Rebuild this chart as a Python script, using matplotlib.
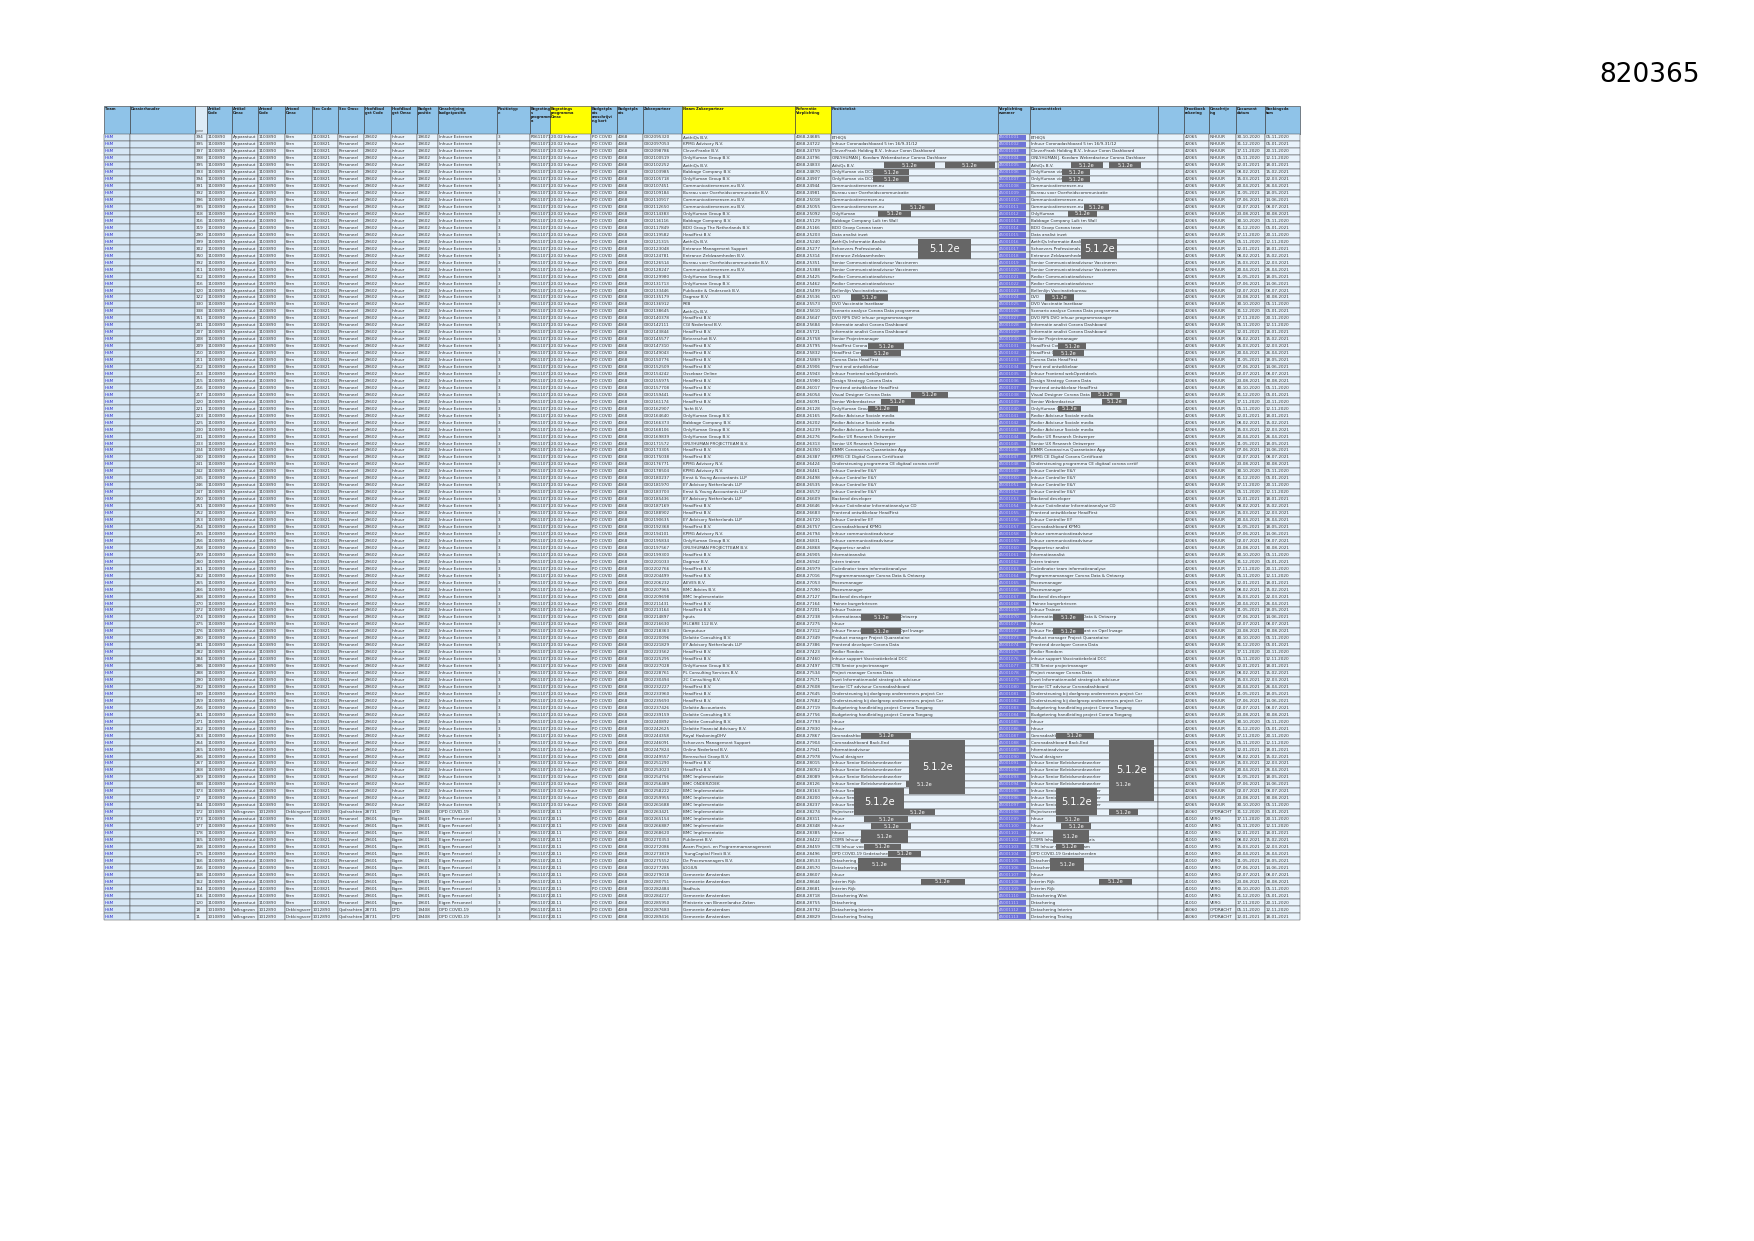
import matplotlib
matplotlib.use("Agg")
import matplotlib.pyplot as plt
from matplotlib.patches import Rectangle

# ---------------- data ----------------
title_number = "820365"
headers = ["Team", "Dossierhouder", "", "Artikel\nCode", "Artikel\nOmsc", "Artond\nCode", "Artond\nOmsc",
           "Sec Code", "Sec Omsc", "Hoofdbud\nget Code", "Hoofdbud\nget Omsc", "Budget\npositie",
           "Omschrijving\nbudgetpositie", "Positietyp\ne", "Begroting\ns\nprogramm\na",
           "Begrotings\nprogramma\nOmsc", "Budgetpla\nats\nomschrijvi\nng kort", "Budgetpla\nats",
           "Zakenpartner", "Naam Zakenpartner", "Referentie\nVerplichting", "Positietekst",
           "Verplichting\nnummer", "Documenttekst", "", "Grootboek\nrekening", "Omschrijv\ning",
           "Document\ndatum", "Boekingsda\ntum"]
col_edges = [104, 130, 195, 207, 232, 258, 285, 312, 338, 364, 391, 417, 438, 497, 530, 550,
             591, 617, 643, 682, 795, 831, 998, 1030, 1158, 1184, 1209, 1236, 1265, 1300]
yellow_cols = [15, 19, 20]

row_numbers = [394, 395, 397, 398, 395, 393, 394, 391, 392, 396, 395, 318, 316, 319, 290, 399, 302,
               350, 392, 311, 312, 316, 320, 322, 330, 338, 351, 201, 207, 208, 209, 210, 211, 212,
               213, 215, 216, 217, 220, 221, 223, 225, 230, 231, 233, 234, 240, 241, 242, 245, 246,
               247, 250, 251, 252, 253, 254, 255, 256, 258, 259, 260, 261, 262, 265, 266, 268, 270,
               272, 274, 275, 276, 280, 281, 282, 284, 286, 288, 290, 292, 349, 259, 256, 261, 271,
               262, 263, 264, 265, 266, 267, 268, 269, 308, 373, 17, 164, 172, 173, 177, 178, 165,
               158, 175, 166, 156, 168, 162, 164, 116, 120, 18, 11]
partners = ["AethiQs B.V.", "KPMG Advisory N.V.", "CleverFranke B.V.", "OnlyHuman Group B.V.",
            "AethiQs B.V.", "Babbage Company B.V.", "OnlyHuman Group B.V.", "Communicatiemensen.nu B.V.",
            "Bureau voor Overheidscommunicatie B.V.", "Communicatiemensen.nu B.V.", "Communicatiemensen.nu B.V.",
            "OnlyHuman Group B.V.", "Babbage Company B.V.", "BDO Group The Netherlands B.V.", "HeadFirst B.V.",
            "AethiQs B.V.", "Entrance Management Support", "Entrance Zeldzaamheden B.V.",
            "Bureau voor Overheidscommunicatie B.V.", "Communicatiemensen.nu B.V.", "OnlyHuman Group B.V.",
            "OnlyHuman Group B.V.", "Publicatie & Onderzoek B.V.", "Dagmar B.V.", "RKB", "AethiQs B.V.",
            "HeadFirst B.V.", "CGI Nederland B.V.", "HeadFirst B.V.", "Betereschot B.V.", "HeadFirst B.V.",
            "HeadFirst B.V.", "HeadFirst B.V.", "HeadFirst B.V.", "Ossebaar Online", "HeadFirst B.V.",
            "HeadFirst B.V.", "HeadFirst B.V.", "HeadFirst B.V.", "Yacht B.V.", "OnlyHuman Group B.V.",
            "Babbage Company B.V.", "OnlyHuman Group B.V.", "OnlyHuman Group B.V.", "ORLYHUMAN PROJECTTEAM B.V.",
            "HeadFirst B.V.", "HeadFirst B.V.", "KPMG Advisory N.V.", "KPMG Advisory N.V.",
            "Ernst & Young Accountants LLP", "EY Advisory Netherlands LLP", "Ernst & Young Accountants LLP",
            "EY Advisory Netherlands LLP", "HeadFirst B.V.", "HeadFirst B.V.", "EY Advisory Netherlands LLP",
            "HeadFirst B.V.", "KPMG Advisory N.V.", "OnlyHuman Group B.V.", "ORLYHUMAN PROJECTTEAM B.V.",
            "HeadFirst B.V.", "Dagmar B.V.", "HeadFirst B.V.", "HeadFirst B.V.", "AEVES B.V.",
            "BMC Advies B.V.", "BMC Implementatie", "HeadFirst B.V.", "HeadFirst B.V.", "Inputs",
            "MLCARE 112 B.V.", "Computuur", "Deloitte Consulting B.V.", "EY Advisory Netherlands LLP",
            "HeadFirst B.V.", "HeadFirst B.V.", "OnlyHuman Group B.V.", "PL Consulting Services B.V.",
            "2C Consulting B.V.", "HeadFirst B.V.", "HeadFirst B.V.", "HeadFirst B.V.", "Deloitte Accountants",
            "Deloitte Consulting B.V.", "Deloitte Consulting B.V.", "Deloitte Financial Advisory B.V.",
            "Royal HaskoningDHV", "Schoevers Management Support", "Online Nederland B.V.",
            "Berenschot Groep B.V.", "HeadFirst B.V.", "HeadFirst B.V.", "BMC Implementatie",
            "BMC ONDERZOEK", "BMC Implementatie", "BMC Implementatie", "BMC Implementatie",
            "BMC Implementatie", "BMC Implementatie", "BMC Implementatie", "BMC Implementatie",
            "Publimeet B.V.", "Avam Project- en Programmamanagement", "YoungCapital Flexit B.V.",
            "De Procesmanagers B.V.", "LOGIUS", "Gemeente Amsterdam", "Gemeente Amsterdam", "Stadhuis",
            "Gemeente Amsterdam", "Ministerie van Binnenlandse Zaken", "Gemeente Amsterdam", "Gemeente Amsterdam",
            "Stadhuis", "Gemeente Amsterdam", "Ministerie van Binnenlandse Zaken en",
            "Dienst Publiek en Communicatie (DPC)", "LOGIUS", "Dienst Publiek en Communicatie (DPC)"]
positions = ["ETHIQS", "Inhuur Coronadashboard 5 tm 16/9-31/12", "CleverFrank Holding B.V., Inhuur Coron Dashboard",
             "ONLYHUMAN J. Koedam Webredacteur Corona Dashboar", "AthiQs B.V.", "OnlyHuman via DCO",
             "OnlyHuman via DCO", "Communicatiemensen.nu", "Bureau voor Overheidscommunicatie",
             "Communicatiemensen.nu", "Communicatiemensen.nu", "OnlyHuman", "Babbage Company Luik tm Wall",
             "BDO Groep Corona team", "Data analist inzet", "AethiQs Informatie Analist", "Schoevers Professionals",
             "Entrance Zeldzaamheden", "Senior Communicatieadviseur Vaccineren",
             "Senior Communicatieadviseur Vaccineren", "Redior Communicatieadviseur", "Redior Communicatieadviseur",
             "Bellenlijn Vaccinatiebureau", "DVO", "DVO Vaccinatie Inzetbaar", "Scenario analyse Corona Data programma",
             "DVO RPS DVO inhuur programmanager", "Informatie analist Corona Dashboard",
             "Informatie analist Corona Dashboard", "Senior Projectmanager", "HeadFirst Corona Data",
             "HeadFirst Corona Data", "Corona Data HeadFirst", "Front end ontwikkelaar", "Inhuur Frontend webOpzetdeels",
             "Design Strategy Corona Data", "Frontend ontwikkelaar HeadFirst", "Visual Designer Corona Data",
             "Senior Webredacteur", "OnlyHuman Group BV", "Redior Adviseur Sociale media",
             "Redior Adviseur Sociale media", "Redior Adviseur Sociale media", "Redior UX Research Ontwerper",
             "Senior UX Research Ontwerper", "KNMR Coronavirus Quarantaine App", "KPMG CE Digital Corona Certificaat",
             "Ondersteuning programma CE digitaal corona certif", "Inhuur Controller E&Y", "Inhuur Controller E&Y",
             "Inhuur Controller E&Y", "Inhuur Controller E&Y", "Backend developer",
             "Inhuur Coördinator Informatieanalyse CD", "Frontend ontwikkelaar HeadFirst", "Inhuur Controller EY",
             "Coronadashboard KPMG", "Inhuur communicatieadviseur", "Inhuur communicatieadviseur",
             "Rapporteur analist", "Informatieanalist", "Intern trainee", "Coördinator team informatieanalyse",
             "Programmamanager Corona Data & Ontwerp", "Procesmanager", "Procesmanager", "Backend developer",
             "Trainee burgerbrieven", "Inhuur Trainee", "Informatieanalist Corona Data & Ontwerp", "Inhuur",
             "Inhuur Financieel Accountant en Opel Inzage", "Product manager Project Quarantaine",
             "Frontend developer Corona Data", "Redior Rondom", "Inhuur support Vaccinatiebeleid DCC",
             "CTB Senior projectmanager", "Project manager Corona Data", "Inzet Informatiemodel strategisch adviseur",
             "Senior ICT adviseur Coronadashboard", "Ondersteuning bij doelgroep ondernemers project Cor",
             "Ondersteuning bij doelgroep ondernemers project Cor", "Budgetering handleiding project Corona Toegang",
             "Budgetering handleiding project Corona Toegang", "Inhuur", "Inhuur", "Coronadashboard",
             "Coronadashboard Back-End", "Informatieadviseur", "Visual designer",
             "Inhuur Senior Beleidsmedewerker", "Inhuur Senior Beleidsmedewerker", "Inhuur Senior Beleidsmedewerker",
             "Inhuur Senior Beleidsmedewerker", "Inhuur Senior Beleidsmedewerker", "Inhuur Senior Beleidsmedewerker",
             "Inhuur Senior Beleidsmedewerker", "Projectsecretaris", "Inhuur", "Inhuur", "Inhuur",
             "COMS Inhuur project secretaris", "CTB Inhuur voor procesteam", "DPD COVID-19 Gedetacheerden",
             "Detachering", "Detachering verbod BZK", "Inhuur", "Interim Rijk", "Interim Rijk",
             "Detachering Wint", "Detachering", "Detachering Interim", "Detachering Testing",
             "Detachering Testing", "Detachering Gemeente Amsterdam", "Detachering BZK L. Boender Corona Data",
             "DPC Media Inzet Quarantaineplicht", "Standaard Platform Coronacontrol", "Corona Opknit juni 2021"]
n_dpd_a = 1
n_eigen = 13
n_dpd_b = 2
group_fixed = [
    ["HSM", "", "1100890", "Apparatuut", "1103890", "Kern", "1103821", "Personeel", "29602", "Inhuur",
     "19602", "Inhuur Externen", "3", "P061107121", "20.02 Inhuur", "PD COVID", "4068", "0002", "4068-", "42065", "INHUUR"],
    ["HSM", "", "1010890", "Volksgezon", "1012890", "Dekkingsverk", "1012890", "Opdrachten", "28731", "DPD",
     "19408", "DPD COVID-19", "3", "P061107211", "20.11", "PD COVID", "4068", "0002", "4068-", "46060", "OPDRACHT"],
    ["HSM", "", "1100890", "Apparatuut", "1103890", "Kern", "1103821", "Personeel", "29601", "Eigen",
     "19601", "Eigen Personeel", "3", "P061107211", "20.11", "PD COVID", "4068", "0002", "4068-", "41010", "VERG"],
    ["HSM", "", "1010890", "Volksgezon", "1012890", "Dekkingsverk", "1012890", "Opdrachten", "28731", "DPD",
     "19408", "DPD COVID-19", "3", "P061107211", "20.11", "PD COVID", "4068", "0002", "4068-", "46060", "OPDRACHT"],
]
doc_dates = ["30-10-2020", "31-12-2020", "17-11-2020", "05-11-2020", "12-01-2021", "08-02-2021",
             "15-03-2021", "20-04-2021", "11-05-2021", "07-06-2021", "02-07-2021", "23-08-2021"]
book_dates = ["05-11-2020", "05-01-2021", "20-11-2020", "12-11-2020", "18-01-2021", "15-02-2021",
              "22-03-2021", "26-04-2021", "18-05-2021", "14-06-2021", "08-07-2021", "30-08-2021"]
# redactions: (first row, number of rows, column index, start fraction, width fraction)
redactions = [(4, 1, 21, 0.32, 0.30), (4, 1, 21, 0.68, 0.30), (5, 1, 21, 0.25, 0.22), (6, 1, 21, 0.25, 0.22),
              (10, 1, 21, 0.42, 0.20), (11, 1, 21, 0.28, 0.20), (15, 3, 21, 0.52, 0.32), (23, 1, 21, 0.12, 0.22),
              (30, 1, 21, 0.22, 0.22), (31, 1, 21, 0.18, 0.24), (37, 1, 21, 0.48, 0.22), (38, 1, 21, 0.30, 0.20),
              (39, 1, 21, 0.22, 0.18), (69, 1, 21, 0.18, 0.24), (71, 1, 21, 0.18, 0.24), (86, 1, 21, 0.18, 0.30),
              (87, 8, 21, 0.47, 0.33), (93, 1, 21, 0.45, 0.22), (94, 4, 21, 0.14, 0.30), (97, 1, 21, 0.42, 0.20),
              (98, 1, 21, 0.20, 0.26), (99, 1, 21, 0.24, 0.24), (100, 2, 21, 0.18, 0.28), (102, 1, 21, 0.20, 0.22),
              (103, 1, 21, 0.34, 0.20), (104, 2, 21, 0.16, 0.26), (107, 1, 21, 0.54, 0.26),
              (4, 1, 23, 0.32, 0.25), (4, 1, 23, 0.62, 0.25), (5, 1, 23, 0.25, 0.22), (6, 1, 23, 0.25, 0.22),
              (10, 1, 23, 0.42, 0.20), (11, 1, 23, 0.30, 0.22), (15, 3, 23, 0.40, 0.28), (23, 1, 23, 0.12, 0.22),
              (30, 1, 23, 0.22, 0.22), (31, 1, 23, 0.18, 0.24), (37, 1, 23, 0.48, 0.22), (38, 1, 23, 0.56, 0.20),
              (39, 1, 23, 0.22, 0.18), (69, 1, 23, 0.18, 0.24), (71, 1, 23, 0.18, 0.24), (86, 1, 23, 0.20, 0.30),
              (87, 9, 23, 0.62, 0.35), (93, 1, 23, 0.62, 0.22), (94, 4, 23, 0.20, 0.32), (97, 1, 23, 0.62, 0.22),
              (98, 1, 23, 0.20, 0.26), (99, 1, 23, 0.24, 0.24), (100, 2, 23, 0.18, 0.28), (102, 1, 23, 0.20, 0.22),
              (104, 2, 23, 0.16, 0.26), (107, 1, 23, 0.54, 0.26)]

# ---------------- layout ----------------
W, H = 1754, 1241
header_top, header_bottom, table_bottom = 106, 134, 920
fs = 3.0
hfs = 2.6

fig = plt.figure(figsize=(W / 100, H / 100), dpi=100)
ax = fig.add_axes([0, 0, 1, 1])
ax.set_xlim(0, W)
ax.set_ylim(H, 0)
ax.axis("off")

ax.text(1700, 75, title_number, fontsize=19, ha="right", va="center", color="black", family="DejaVu Sans")

nrows = min(len(row_numbers), len(partners), len(positions))
n_inhuur = nrows - n_dpd_a - n_eigen - n_dpd_b
group_sizes = [n_inhuur, n_dpd_a, n_eigen, n_dpd_b]
rh = (table_bottom - header_bottom) / nrows

# header
for c in range(len(col_edges) - 1):
    x0, x1 = col_edges[c], col_edges[c + 1]
    color = "#ffff00" if c in yellow_cols else "#8fc3e8"
    if c == 2:
        color = "#dcebf7"
    ax.add_patch(Rectangle((x0, header_top), x1 - x0, header_bottom - header_top,
                           facecolor=color, edgecolor="#333333", lw=0.4))
    ax.text(x0 + 0.8, header_top + 1, headers[c], fontsize=hfs, va="top", ha="left", linespacing=0.95,
            fontweight="bold", color="#1f1f1f")
ax.text(col_edges[2] + 1, header_bottom - 1, "pone", fontsize=2.4, va="bottom", color="#555555")


def fit(s, width):
    maxc = int((width - 2) / 2.15)
    return s if len(s) <= maxc else s[:maxc]


row_group = []
for g, n in enumerate(group_sizes):
    row_group += [g] * n
fixed_cols = [0, 1, 3, 4, 5, 6, 7, 8, 9, 10, 11, 12, 13, 14, 15, 16, 17, 18, 20, 25, 26]

for r in range(nrows):
    y0 = header_bottom + r * rh
    fixed = group_fixed[row_group[r]]
    vals = [""] * (len(col_edges) - 1)
    for k, c in enumerate(fixed_cols):
        vals[c] = fixed[k]
    vals[2] = str(row_numbers[r])
    vals[18] = "000" + str(2095320 + r * 1733)[:7]
    vals[19] = partners[r]
    vals[20] = "4068-" + str(24685 + r * 37)[:5]
    vals[21] = positions[r]
    vals[22] = "4500" + str(1001 + r)
    vals[23] = positions[r]
    vals[27] = doc_dates[r % len(doc_dates)]
    vals[28] = book_dates[r % len(book_dates)]
    for c in range(len(col_edges) - 1):
        x0, x1 = col_edges[c], col_edges[c + 1]
        fc = "#d6e7f5" if c in (0, 1) else "#e9f3fb"
        ax.add_patch(Rectangle((x0, y0), x1 - x0, rh, facecolor=fc, edgecolor="#4a4a4a", lw=0.35))
        tc = "#2a2ad0" if c == 0 else "#333333"
        if c == 22:
            ax.add_patch(Rectangle((x0 + 0.8, y0 + 0.8), (x1 - x0) * 0.85, rh - 1.6,
                                   facecolor="#6f74d8", edgecolor="none"))
            tc = "#d0d0ff"
        ax.text(x0 + 1, y0 + rh / 2, fit(vals[c], x1 - x0), fontsize=fs, va="center", ha="left", color=tc)

for (r0, nr, c, f0, fw) in redactions:
    if r0 >= nrows:
        continue
    x0, x1 = col_edges[c], col_edges[c + 1]
    w = x1 - x0
    y0 = header_bottom + r0 * rh
    ax.add_patch(Rectangle((x0 + f0 * w, y0 + 0.4), fw * w, nr * rh - 0.8, facecolor="#666666",
                           edgecolor="none", zorder=5))
    big = nr >= 3
    ax.text(x0 + (f0 + fw / 2) * w, y0 + nr * rh / 2, "5.1.2e", fontsize=7 if big else 3.6,
            color="white", ha="center", va="center", zorder=6)

fig.savefig("out.png", dpi=100)
